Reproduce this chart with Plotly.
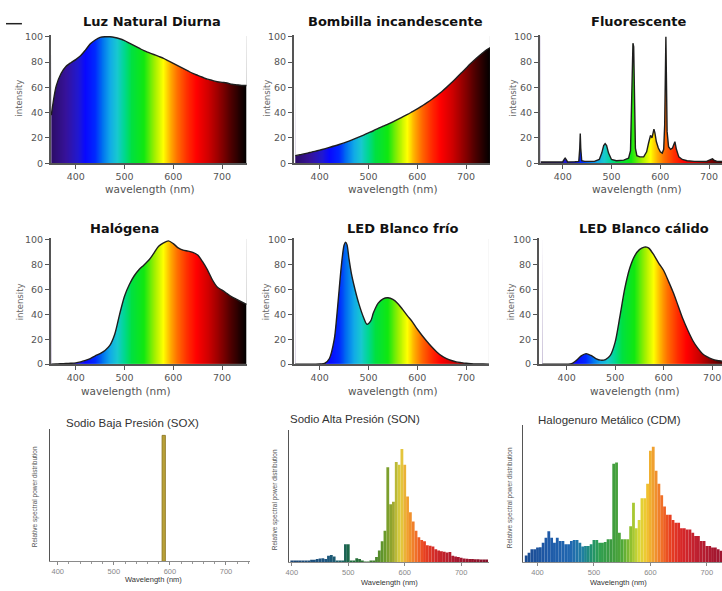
import numpy as np
import plotly.graph_objects as go

W, H = 722, 591

# ---------------- data ----------------
wl10 = list(range(350, 751, 10))
luz_natural = [38, 61, 71, 76.5, 79.5, 82, 85, 89.5, 94.5, 97.5, 99.5, 100, 100, 99.5, 98.5,
               97, 95, 93, 91, 89, 87.5, 86, 84.5, 83, 81, 79, 77, 75, 73, 71, 69.5, 68, 66.5,
               65.5, 64.5, 64, 63.5, 62.5, 62, 61.5, 61.5]
bombilla = [6, 6.8, 7.6, 8.5, 9.4, 10.4, 11.4, 12.5, 13.6, 14.8, 16.1, 17.5, 19, 20.6, 22.3,
            24, 25.7, 27.5, 29.3, 31, 32.8, 34.7, 36.6, 38.6, 40.8, 43, 45.4, 47.9, 50.6, 53.5,
            56.6, 60, 63.6, 67.4, 71.3, 75.2, 79, 82.6, 86, 89.2, 91.5]
halogena = [0, 0.1, 0.3, 0.5, 0.7, 1, 1.8, 3, 4.5, 6.6, 8.5, 11, 15, 24, 40,
            54.6, 64, 71, 76, 79.7, 83.6, 89, 94.7, 97.4, 99, 96.8, 93.4, 91.6, 90.8, 89.7,
            87.6, 82.3, 75.7, 67.8, 62, 59.4, 56.7, 54, 52, 50, 48]
led_frio_x = [350, 380, 400, 410, 420, 430, 435, 440, 445, 450, 453, 456, 460, 465, 470, 480,
              490, 497, 505, 510, 520, 530, 540, 550, 560, 570, 580, 590, 600, 610, 620, 630,
              640, 650, 660, 670, 680, 690, 700, 710, 720, 735, 750]
led_frio = [0, 0, 0.2, 0.5, 4.5, 20, 38, 60, 81, 95.5, 98, 96, 85, 73, 64, 49,
            37.5, 32, 35, 41, 49, 52.5, 53.3, 52, 48.8, 44, 38.8, 34, 28.2, 23, 18.2, 13.7,
            9.8, 6.6, 4.5, 2.9, 1.8, 1.2, 0.7, 0.4, 0.2, 0.1, 0]
led_calido_x = [350, 400, 410, 420, 430, 440, 450, 460, 470, 480, 490, 500, 510, 520, 530, 540,
                550, 560, 565, 570, 580, 590, 600, 610, 620, 630, 640, 650, 660, 670, 680, 690,
                700, 710, 720, 730]
led_calido = [0, 0, 0.3, 3, 6.6, 8.4, 7, 4.5, 3.2, 3.7, 7, 17.7, 38.8, 61, 77, 86.8,
              92, 94, 94, 93, 87.6, 81, 75.2, 66.5, 57.3, 46.7, 36, 27, 19, 13, 8.4, 5.8,
              4, 2.9, 2.4, 2]
fluor_x = [355, 380, 400, 403, 405, 407, 410, 425, 433, 435, 436, 437, 439, 445, 465, 475,
           480, 484, 487, 490, 494, 500, 510, 525, 535, 539, 541, 542.5, 544, 545.5, 547, 549,
           552, 558, 566, 572, 576, 580, 583, 585, 587, 589, 592, 596, 600, 604, 607, 609,
           610.5, 611.5, 612.5, 614, 617, 621, 625, 628, 630, 633, 638, 645, 655, 670, 695, 704,
           707, 710, 716, 730]
fluor = [1, 1, 1, 3, 4, 3, 1, 1.2, 1.5, 12, 23.5, 12, 2, 1.5, 1.5, 3,
         8, 14, 15.5, 14, 8, 3, 2, 2.5, 4, 10, 40, 85, 95, 92, 45, 12,
         6, 5, 5, 9, 16, 22, 20, 23, 27, 24, 17, 12, 9, 8, 11, 30,
         85, 100, 70, 25, 13, 11, 12, 16, 17, 11, 5, 3, 2, 1.5, 1.5, 3,
         3.5, 2.5, 1.5, 1.5]
sox_x = [589]
sox = [95.5]
son_x = list(range(400, 746, 5))
son = [1, 1, 1, 1, 1, 1, 1.5, 2, 2, 2.5,
       3, 3.2, 2.5, 5, 5.5, 4.5, 1.5, 1.2, 1.2, 13.7,
       13.7, 1.5, 1, 3.2, 2.5, 0.8, 0.6, 0.6, 0.8, 1.5,
       4, 9, 16, 24, 72, 44, 46, 76, 74, 86,
       74, 50, 38, 31, 24, 19, 17, 16, 13, 12.5,
       12, 10, 9, 8.5, 8, 7.5, 7.8, 5, 4.5, 4,
       3.5, 3, 2.8, 2.6, 2.5, 2.4, 2.3, 2.2, 2.2, 2.2]
cdm_x = list(range(380, 726, 5))
cdm = [5, 7, 9.6, 9.6, 10.8, 11, 14.4, 18, 22.8, 18,
       14.4, 18, 15.6, 15.6, 13.2, 13.2, 15.6, 16.3, 16.3, 14.4,
       11.5, 12, 12, 13.2, 16.3, 16.3, 14.4, 14.4, 14.9, 16.8,
       16.8, 72, 73, 21.6, 16.8, 16.8, 16.8, 26.4, 43.6, 25,
       31, 46.8, 46.8, 57.5, 81.5, 84.4, 67, 57.5, 49, 40.8,
       34.8, 34.8, 31, 29, 29, 25, 25, 24, 24, 21.6,
       19.2, 19.2, 15.6, 15.6, 12, 12, 10.8, 10.8, 9.6, 8.4]

titles_top = ["Luz Natural Diurna", "Bombilla incandescente", "Fluorescente",
              "Halógena", "LED Blanco frío", "LED Blanco cálido"]
titles_bottom = ["Sodio Baja Presión (SOX)", "Sodio Alta Presión (SON)", "Halogenuro Metálico (CDM)"]
x_ticks = [400, 500, 600, 700]
y_ticks = [0, 20, 40, 60, 80, 100]

# ---------------- colour helpers ----------------
RAINBOW = [(350, '#2c0c66'), (380, '#36129a'), (405, '#2018d0'), (420, '#0808ff'),
           (440, '#0028ff'), (455, '#0070f0'), (470, '#10a8e8'), (485, '#18c8d0'),
           (500, '#00d890'), (515, '#00e040'), (540, '#10e810'), (562, '#a0f000'),
           (580, '#ffff00'), (594, '#ffb000'), (608, '#ff7000'), (628, '#ff3000'),
           (648, '#ff0000'), (672, '#d00000'), (698, '#8a0000'), (720, '#4a0000'),
           (740, '#180000'), (750, '#000000')]
LAMP = [(375, '#1a4a90'), (420, '#1f5aa8'), (460, '#2068b0'), (480, '#2080a0'),
        (495, '#209070'), (510, '#30a050'), (530, '#3c9a40'), (550, '#50a838'),
        (565, '#90c030'), (580, '#d8d838'), (592, '#f0c830'), (605, '#f0a030'),
        (620, '#f07028'), (635, '#e84020'), (655, '#d82828'), (680, '#c02030'),
        (710, '#a81830'), (750, '#901030')]
LAMP_DARK = [(375, '#1a3f70'), (460, '#1d5580'), (490, '#1a6060'), (505, '#1c6a3c'),
             (540, '#3a7a30'), (565, '#6a9a2a'), (580, '#a0a830'), (592, '#e0d040'),
             (605, '#f0a030'), (620, '#f07028'), (635, '#e84020'), (655, '#d02828'),
             (690, '#a81830'), (750, '#801028')]


def hex2rgb(h):
    return tuple(int(h[i:i + 2], 16) for i in (1, 3, 5))


def color_at(nm, stops):
    if nm <= stops[0][0]:
        return stops[0][1]
    for (a, ca), (b, cb) in zip(stops, stops[1:]):
        if nm <= b:
            t = (nm - a) / (b - a)
            p, q = hex2rgb(ca), hex2rgb(cb)
            return 'rgb(%d,%d,%d)' % tuple(round(u + (v - u) * t) for u, v in zip(p, q))
    return stops[-1][1]


def colorscale(stops):
    lo, hi = stops[0][0], stops[-1][0]
    return [[(w - lo) / (hi - lo), c] for w, c in stops]


def xd(a, b):
    return [a / W, min(b / W, 1.0)]


def yd(top, bottom):
    return [1 - bottom / H, 1 - top / H]


fig = go.Figure()
layout = dict(width=W, height=H, margin=dict(l=0, r=0, t=0, b=0),
              paper_bgcolor='white', plot_bgcolor='white', showlegend=False,
              hovermode=False)

ROUND = 'DejaVu Sans'
YTOP = 101.5
top_panels = [
    ('', wl10, luz_natural, 'spline', (48, 245), (349, 751), (31.4, 161.7)),
    ('2', wl10, bombilla, 'spline', (292, 489), (347, 749), (31.4, 161.7)),
    ('3', fluor_x, fluor, 'linear', (539, 722), (353, 726.5), (31.4, 161.7)),
    ('4', wl10, halogena, 'spline', (48, 245), (349, 751), (237.4, 365.7)),
    ('5', led_frio_x, led_frio, 'spline', (292, 488), (347, 747), (237.4, 365.7)),
    ('6', led_calido_x, led_calido, 'spline', (538, 722), (342.5, 720.3), (237.4, 365.7)),
]

axcol = '#555555'
for key, xs, ys, shape, px, xr, py in top_panels:
    xa, ya = 'x' + key, 'y' + key
    xmin, xmax = min(xs), max(xs)
    xe = np.arange(xmin, xmax + 0.01, 0.5)          # bin edges of the colour gradient
    xc = (xe[:-1] + xe[1:]) / 2
    fig.add_trace(go.Heatmap(x=xe, y=[0, 100.6], z=[xc], zmin=350, zmax=750,
                             colorscale=colorscale(RAINBOW), showscale=False,
                             xaxis=xa, yaxis=ya, hoverinfo='skip'))
    fig.add_trace(go.Scatter(x=xs, y=ys, mode='lines',
                             line=dict(width=0, shape=shape, smoothing=0.8),
                             xaxis=xa, yaxis=ya, hoverinfo='skip'))
    fig.add_trace(go.Scatter(x=[xmin - 1, xmax + 1], y=[130, 130], mode='lines',
                             line=dict(width=0), fill='tonexty', fillcolor='white',
                             xaxis=xa, yaxis=ya, hoverinfo='skip'))
    fig.add_trace(go.Scatter(x=xs, y=ys, mode='lines',
                             line=dict(width=1.4, color='#1e1e1e', shape=shape, smoothing=0.8),
                             xaxis=xa, yaxis=ya, hoverinfo='skip'))
    layout['xaxis' + key] = dict(domain=xd(*px), range=list(xr), anchor=ya,
                                 showline=True, linecolor=axcol, linewidth=1.5,
                                 ticks='outside', ticklen=4, tickwidth=1.2, tickcolor=axcol,
                                 tickvals=x_ticks, tickfont=dict(size=9.5, color='#555',
                                                                 family=ROUND),
                                 showgrid=False, zeroline=False)
    layout['yaxis' + key] = dict(domain=yd(*py), range=[0, YTOP], anchor=xa,
                                 showline=True, linecolor=axcol, linewidth=1.5,
                                 ticks='outside', ticklen=4, tickwidth=1.2, tickcolor=axcol,
                                 tickvals=y_ticks, tickfont=dict(size=9.5, color='#555',
                                                                 family=ROUND),
                                 showgrid=False, zeroline=False)

bottom_panels = [
    ('7', sox_x, sox, 6, None, (47, 248), (385.8, 742.8), (432, 566)),
    ('8', son_x, son, 5, LAMP_DARK, (287, 488), (394.7, 749.2), (433, 567)),
    ('9', cdm_x, cdm, 5, LAMP, (522, 722), (374, 726.8), (428, 567)),
]
for key, xs, ys, width, stops, px, xr, py in bottom_panels:
    xa, ya = 'x' + key, 'y' + key
    if stops is None:
        cols = ['#b8a038' for _ in xs]
        mline = dict(width=0.8, color='#8a7420')
    else:
        cols = [color_at(v, stops) for v in xs]
        mline = dict(width=0)
    fig.add_trace(go.Bar(x=xs, y=ys, width=width, marker=dict(color=cols, line=mline),
                         xaxis=xa, yaxis=ya, hoverinfo='skip'))
    xdict = dict(domain=xd(*px), range=list(xr), anchor=ya,
                 showline=True, linecolor='#8a8a8a', linewidth=1,
                 ticks='outside', ticklen=3, tickcolor='#888',
                 tickmode='linear', tick0=0, dtick=100,
                 tickfont=dict(size=7.5, color='#888', family='Liberation Sans'),
                 showgrid=False, zeroline=False)
    if key == '7':
        xdict['minor'] = dict(tickmode='linear', tick0=0, dtick=20, ticks='outside',
                              ticklen=2, tickcolor='#999', showgrid=False)
    layout['xaxis' + key] = xdict
    layout['yaxis' + key] = dict(domain=yd(*py), range=[0, 100], anchor=xa,
                                 showline=True, linecolor='#555', linewidth=1.2,
                                 showticklabels=False, ticks='', showgrid=False,
                                 zeroline=False)

ann = []


def add_text(text, x, y, size, color, bold=False, angle=0, family='Liberation Sans'):
    ann.append(dict(text=('<b>%s</b>' % text) if bold else text,
                    x=x / W, y=1 - y / H, xref='paper', yref='paper',
                    xanchor='center', yanchor='middle', showarrow=False,
                    textangle=angle, font=dict(size=size, color=color, family=family)))


top_title_pos = [(150, 18), (394, 18), (638, 18), (122, 228), (402, 228), (644, 228)]
for t, (x, y) in zip(titles_top, top_title_pos):
    add_text(t, x, y, 13, '#111', bold=True, family=ROUND)

for x, y in [(148, 188), (392, 188), (637, 188), (124, 393), (392, 393), (635, 393)]:
    add_text('wavelength (nm)', x, y, 10.5, '#555', family=ROUND)
for x, y in [(16, 95), (265, 95), (512, 95), (17, 302), (265, 302), (511, 302)]:
    add_text('intensity', x, y, 8.5, '#666', angle=-90, family=ROUND)

for t, (x, y) in zip(titles_bottom, [(130, 425), (353, 421), (609, 422)]):
    add_text(t, x, y, 11.5, '#333')
for x, y in [(151, 584), (388, 587), (618, 587)]:
    add_text('Wavelength (nm)', x, y, 7.5, '#333')
for x, y in [(33, 500), (273, 503), (509, 501)]:
    add_text('Relative spectral power distribution', x, y, 6.5, '#555', angle=-90)

layout['annotations'] = ann
layout['shapes'] = [dict(type='line', xref='paper', yref='paper',
                         x0=3 / W, x1=19 / W, y0=1 - 20 / H, y1=1 - 20 / H,
                         line=dict(color='#222', width=1.5))]
fig.update_layout(**layout)
fig.write_html("out.html")
